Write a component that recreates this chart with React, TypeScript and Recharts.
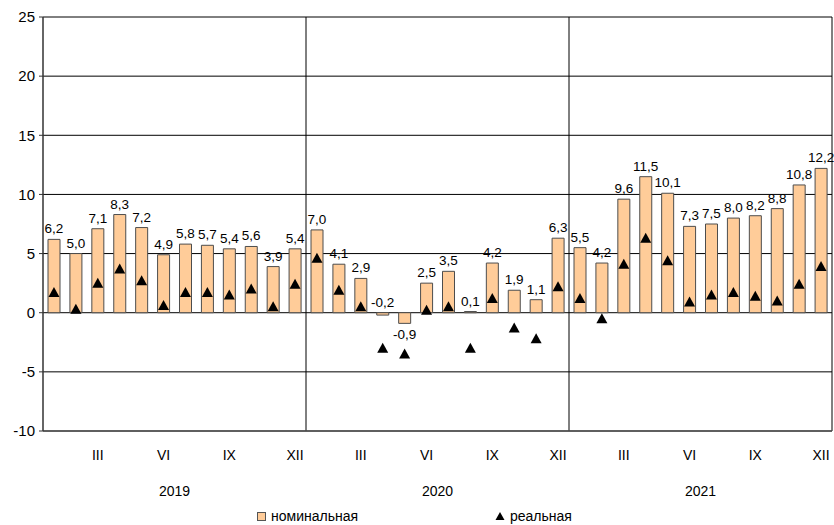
import { ComposedChart, Bar, Scatter, XAxis, YAxis, CartesianGrid, LabelList } from "recharts";

const years = ["2019", "2020", "2021"];
const months = ["I", "II", "III", "IV", "V", "VI", "VII", "VIII", "IX", "X", "XI", "XII"];
const shownMonths = ["III", "VI", "IX", "XII"];
const yTicks = [-10, -5, 0, 5, 10, 15, 20, 25];

const nominal2019 = [6.2, 5.0, 7.1, 8.3, 7.2, 4.9, 5.8, 5.7, 5.4, 5.6, 3.9, 5.4];
const nominal2020 = [7.0, 4.1, 2.9, -0.2, -0.9, 2.5, 3.5, 0.1, 4.2, 1.9, 1.1, 6.3];
const nominal2021 = [5.5, 4.2, 9.6, 11.5, 10.1, 7.3, 7.5, 8.0, 8.2, 8.8, 10.8, 12.2];

const real2019 = [1.7, 0.3, 2.5, 3.7, 2.7, 0.6, 1.7, 1.7, 1.5, 2.0, 0.5, 2.4];
const real2020 = [4.6, 1.9, 0.5, -3.0, -3.5, 0.2, 0.5, -3.0, 1.2, -1.3, -2.2, 2.2];
const real2021 = [1.2, -0.5, 4.1, 6.3, 4.4, 0.9, 1.5, 1.7, 1.4, 1.0, 2.4, 3.9];

const nominal = [nominal2019, nominal2020, nominal2021];
const real = [real2019, real2020, real2021];

const data = years.flatMap((year, yi) =>
  months.map((month, mi) => ({
    key: `${year}-${month}`,
    year,
    month,
    nominal: nominal[yi][mi],
    real: real[yi][mi],
  }))
);

const FONT = '"Liberation Sans", Arial, sans-serif';
const BAR_FILL = "#FFCC99";

const fmt = (v: number) => v.toFixed(1).replace(".", ",");

function MonthTick(props: any) {
  const { x, y, payload } = props;
  const month = String(payload.value).split("-")[1];
  if (!shownMonths.includes(month)) return null;
  return (
    <text x={x} y={y + 21} textAnchor="middle" fontSize={14} fontFamily={FONT} fill="#000">
      {month}
    </text>
  );
}

function YearTick(props: any) {
  const { x, y, payload } = props;
  return (
    <text x={x} y={y + 17} textAnchor="middle" fontSize={14} fontFamily={FONT} fill="#000">
      {payload.value}
    </text>
  );
}

function BarLabel(props: any) {
  const { x, y, width, height, value } = props;
  const top = Math.min(y, y + height);
  const bottom = Math.max(y, y + height);
  const below = value < -0.5;
  return (
    <text
      x={x + width / 2}
      y={below ? bottom + 16 : top - 6}
      textAnchor="middle"
      fontSize={13.5}
      fontFamily={FONT}
      fill="#000"
    >
      {fmt(value)}
    </text>
  );
}

function Triangle(props: any) {
  const { cx, cy } = props;
  return <polygon points={`${cx},${cy - 5.5} ${cx - 5.5},${cy + 4.5} ${cx + 5.5},${cy + 4.5}`} fill="#000" />;
}

export default function App() {
  return (
    <div style={{ position: "absolute", left: 0, top: 0, width: 834, height: 525, fontFamily: FONT, background: "#fff" }}>
      <ComposedChart width={834} height={525} data={data} margin={{ top: 17, right: 2, left: 0, bottom: 0 }}>
        <CartesianGrid
          xAxisId="m"
          stroke="#000"
          strokeWidth={1}
          verticalCoordinatesGenerator={({ offset }: any) => [
            offset.left + offset.width / 3,
            offset.left + (offset.width * 2) / 3,
            offset.left + offset.width,
          ]}
        />
        <XAxis
          xAxisId="m"
          dataKey="key"
          interval={0}
          height={40}
          tickLine={false}
          axisLine={{ stroke: "#555", strokeWidth: 1.5 }}
          tick={<MonthTick />}
        />
        <XAxis
          xAxisId="y"
          dataKey="year"
          allowDuplicatedCategory={false}
          height={54}
          tickLine={false}
          axisLine={false}
          tick={<YearTick />}
        />
        <YAxis
          width={43}
          domain={[-10, 25]}
          ticks={yTicks}
          interval={0}
          tickSize={4}
          tickMargin={4}
          axisLine={{ stroke: "#333", strokeWidth: 1.5 }}
          tickLine={{ stroke: "#333" }}
          tick={{ fontSize: 15, fill: "#000", fontFamily: FONT }}
        />
        <Bar xAxisId="m" dataKey="nominal" fill={BAR_FILL} stroke="#4d4d4d" strokeWidth={1} barSize={12} isAnimationActive={false}>
          <LabelList dataKey="nominal" content={<BarLabel />} />
        </Bar>
        <Scatter xAxisId="m" dataKey="real" shape={<Triangle />} isAnimationActive={false} />
      </ComposedChart>
      <div style={{ position: "absolute", top: 508, left: 257, display: "flex", alignItems: "center", fontSize: 14, color: "#000" }}>
        <span style={{ display: "inline-block", width: 7, height: 7, background: BAR_FILL, border: "1px solid #555", marginRight: 5 }} />
        <span>номинальная</span>
      </div>
      <div style={{ position: "absolute", top: 508, left: 495, display: "flex", alignItems: "center", fontSize: 14, color: "#000" }}>
        <svg width={10} height={10} style={{ marginRight: 5 }}>
          <polygon points="5,1 0.5,9 9.5,9" fill="#000" />
        </svg>
        <span>реальная</span>
      </div>
    </div>
  );
}
